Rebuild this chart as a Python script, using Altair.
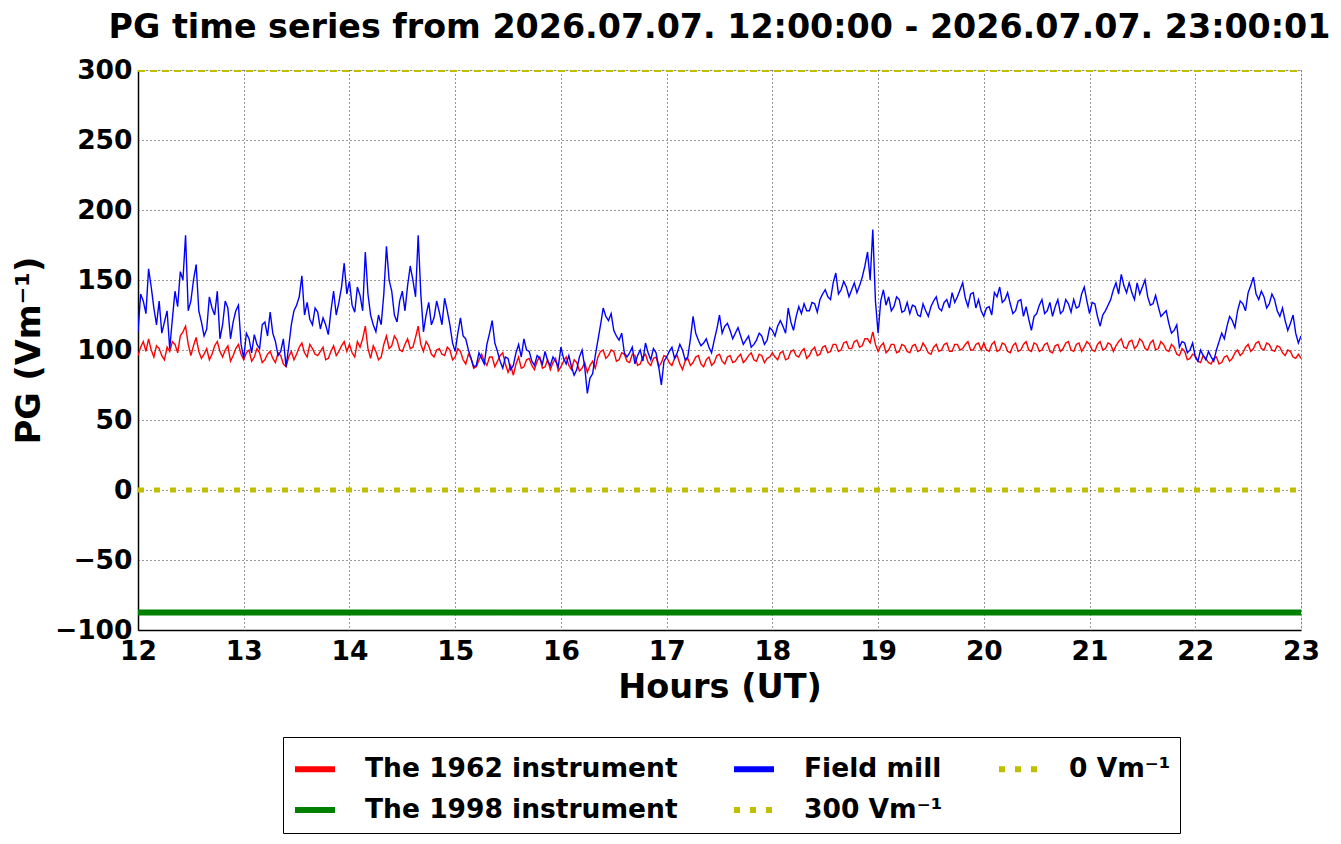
import altair as alt
import pandas as pd

# main samples every 3 minutes (12:00 .. 23:00) plus one reading between each pair
hours = [round(12 + i * 0.05, 4) for i in range(221)]
hours_mid = [round(12.025 + i * 0.05, 4) for i in range(220)]

red_1962 = (
    [96,106,108,95,101,93,99,104,110,117,96,109,94,101,97,106,95,103,96,104]
    + [93,100,95,98,93,99,91,96,88,99,97,105,95,101,96,102,94,103,99,106]
    + [104,95,102,117,94,99,95,110,103,107,99,108,102,117,99,103,95,101,96,100]
    + [95,99,90,94,88,97,89,95,92,98,84,82,95,88,94,86,95,88,86,94]
    + [88,95,86,91,87,84,92,95,100,96,99,93,97,91,96,90,97,89,95,91]
    + [95,89,96,86,94,91,96,88,95,91,97,90,96,92,97,93,98,92,96,94]
    + [98,93,99,94,100,95,101,96,102,97,103,99,104,100,106,101,107,103,108,113]
    + [99,105,100,104,99,103,98,104,100,102,97,104,100,105,99,104,101,106,100,105]
    + [105,99,106,100,104,98,105,100,106,99,104,100,105,98,104,101,106,99,105,102]
    + [104,99,106,101,104,103,108,101,107,103,106,100,107,101,104,99,102,96,99,94]
    + [96,91,94,90,95,91,96,94,100,98,104,101,106,100,104,99,102,96,99,94]
    + [94]
)
red_1962_mid = (
    [102,99,100,103,96,102,106,98,113,104,103,99,97,93,103,99,100,92,101,97]
    + [98,92,101,91,97,94,98,90,95,93,102,98,104,97,99,93,99,96,103,99]
    + [98,106,108,101,103,93,104,101,110,100,104,101,109,104,106,97,100,97,102,93]
    + [101,93,97,87,93,92,95,88,96,90,89,90,87,93,89,92,87,93,91,85]
    + [92,89,93,85,91,89,87,99,94,100,92,98,92,97,89,95,91,94,88,96]
    + [91,94,90,92,89,95,90,93,89,96,92,95,91,95,91,96,93,97,91,95]
    + [95,98,93,99,96,99,94,100,96,102,98,104,99,105,101,106,102,108,105,104]
    + [103,98,104,98,104,99,103,99,105,98,102,99,104,99,104,100,104,100,104,100]
    + [100,104,99,105,99,103,99,104,100,105,99,104,99,103,99,105,100,104,99,106]
    + [100,104,100,105,99,106,102,106,101,108,101,105,100,106,100,104,97,101,93,97]
    + [92,96,91,94,90,95,92,98,96,102,99,105,101,105,100,103,98,100,95,97]
)

blue_mill = (
    [113,135,158,130,135,120,101,142,156,182,135,161,120,115,130,142,118,130,120,132]
    + [94,108,111,101,120,127,106,99,88,118,132,153,134,118,127,123,111,142,134,162]
    + [149,127,139,170,125,113,118,174,142,120,142,146,150,182,113,134,123,127,137,118]
    + [99,123,108,94,89,94,104,121,99,87,94,89,104,108,99,89,94,99,89,92]
    + [102,90,88,86,100,69,83,107,130,121,114,107,98,98,90,100,105,93,98,75]
    + [95,102,98,100,95,124,107,105,102,107,125,117,114,112,110,107,102,107,110,107]
    + [114,117,117,130,114,131,133,128,133,136,143,136,155,143,145,143,141,152,170,186]
    + [112,143,138,131,136,128,126,131,124,128,131,138,128,136,141,138,148,131,141,136]
    + [124,131,141,145,136,133,128,136,131,114,126,136,128,124,136,128,133,136,131,145]
    + [126,133,117,128,136,148,154,141,141,148,145,138,133,131,126,119,114,102,105,100]
    + [95,100,93,95,100,112,117,121,128,133,141,152,136,138,133,136,124,121,119,112]
    + [110]
)
blue_mill_mid = (
    [140,126,145,118,112,128,122,131,150,128,150,128,110,138,125,108,135,108,128,104]
    + [112,98,104,118,110,112,96,108,102,128,138,125,122,130,115,118,128,125,145,140]
    + [132,145,128,140,118,125,140,150,125,135,128,160,138,140,125,118,135,118,128,105]
    + [112,110,100,88,98,90,112,105,92,95,86,98,95,100,92,96,90,92,95,88]
    + [94,96,82,95,88,80,96,118,124,126,110,112,95,102,96,92,98,101,88,92]
    + [99,94,104,93,108,112,103,108,98,115,112,119,108,116,104,110,104,112,104,116]
    + [110,121,112,120,124,126,128,134,127,140,138,148,140,149,138,148,146,160,150,135]
    + [135,132,128,138,127,134,132,125,133,124,135,130,134,130,134,143,137,140,130,128]
    + [130,125,138,134,141,126,135,124,122,124,132,126,134,131,126,136,127,130,140,135]
    + [134,124,125,132,143,140,146,148,136,140,150,132,139,124,128,112,118,106,98,105]
    + [92,96,99,92,106,108,124,116,135,128,146,140,142,130,140,128,130,114,125,105]
)

flat_hours = [12, 23]
green_1998 = [-87.5, -87.5]
line_300 = [300, 300]
line_0 = [0, 0]

S_RED = "The 1962 instrument"
S_GREEN = "The 1998 instrument"
S_BLUE = "Field mill"
S_300 = "300 Vm\u207b\u00b9"
S_ZERO = "0 Vm\u207b\u00b9"

series_order = [S_RED, S_GREEN, S_BLUE, S_300, S_ZERO]
series_colors = ["#ff0000", "#008000", "#0000ff", "#bfbf00", "#bfbf00"]
series_dash = [[1, 0], [1, 0], [1, 0], [6, 10], [6, 10]]

df_red = pd.concat([
    pd.DataFrame({"t": hours, "v": red_1962}),
    pd.DataFrame({"t": hours_mid, "v": red_1962_mid}),
]).sort_values("t").assign(s=S_RED)
df_blue = pd.concat([
    pd.DataFrame({"t": hours, "v": blue_mill}),
    pd.DataFrame({"t": hours_mid, "v": blue_mill_mid}),
]).sort_values("t").assign(s=S_BLUE)
df_green = pd.DataFrame({"t": flat_hours, "v": green_1998, "s": S_GREEN})
df_300 = pd.DataFrame({"t": flat_hours, "v": line_300, "s": S_300})
df_0 = pd.DataFrame({"t": flat_hours, "v": line_0, "s": S_ZERO})

FONT = "DejaVu Sans"

x_enc = alt.X(
    "t:Q",
    scale=alt.Scale(domain=[12, 23], nice=False, zero=False),
    axis=alt.Axis(
        title="Hours (UT)", values=list(range(12, 24)), format="d",
        labelFontSize=26.5, labelFontWeight="bold", labelFont=FONT, labelColor="black",
        titleFontSize=33.5, titleFontWeight="bold", titleFont=FONT, titleColor="black",
        titlePadding=7, labelPadding=8, ticks=False, labelFlush=False, labelOverlap=False,
        labelBound=False, grid=True, gridColor="black", gridDash=[1, 3], gridOpacity=0.8,
        domainColor="black", domainWidth=1.5,
    ),
)
y_enc = alt.Y(
    "v:Q",
    scale=alt.Scale(domain=[-100, 300], nice=False, zero=False),
    axis=alt.Axis(
        title="PG (Vm\u207b\u00b9)", values=list(range(-100, 301, 50)),
        labelFontSize=26.5, labelFontWeight="bold", labelFont=FONT, labelColor="black",
        titleFontSize=33.5, titleFontWeight="bold", titleFont=FONT, titleColor="black",
        titlePadding=8, labelPadding=6, ticks=False, labelFlush=False, labelOverlap=False,
        labelBound=False, grid=True, gridColor="black", gridDash=[1, 3], gridOpacity=0.8,
        domainColor="black", domainWidth=1.5,
    ),
)

legend = alt.Legend(
    title=None, orient="none", legendX=145, legendY=667, columns=3,
    symbolType="stroke", symbolSize=1600, symbolStrokeWidth=6,
    labelFontSize=26.5, labelFontWeight="bold", labelFont=FONT, labelColor="black",
    labelLimit=500, labelOffset=27, columnPadding=44, rowPadding=4,
    padding=9, strokeColor="black", fillColor="white", cornerRadius=0,
)
color_enc = alt.Color(
    "s:N", scale=alt.Scale(domain=series_order, range=series_colors), legend=legend
)
dash_enc = alt.StrokeDash(
    "s:N", scale=alt.Scale(domain=series_order, range=series_dash), legend=legend
)

red_layer = alt.Chart(df_red).mark_line(strokeWidth=1.4, clip=True).encode(
    x=x_enc, y=y_enc, color=color_enc, strokeDash=dash_enc)
green_layer = alt.Chart(df_green).mark_line(strokeWidth=6, clip=True).encode(
    x=x_enc, y=y_enc, color=color_enc, strokeDash=dash_enc)
blue_layer = alt.Chart(df_blue).mark_line(strokeWidth=1.4, clip=True).encode(
    x=x_enc, y=y_enc, color=color_enc, strokeDash=dash_enc)
top_layer = alt.Chart(df_300).mark_line(strokeWidth=4, clip=True, strokeDash=[7, 5]).encode(
    x=x_enc, y=y_enc, color=color_enc)
zero_layer = alt.Chart(df_0).mark_line(strokeWidth=5, clip=True).encode(
    x=x_enc, y=y_enc, color=color_enc, strokeDash=dash_enc)

chart = alt.layer(red_layer, green_layer, blue_layer, top_layer, zero_layer).properties(
    width=1163, height=560,
    title=alt.TitleParams(
        text="PG time series from 2026.07.07. 12:00:00 - 2026.07.07. 23:00:01",
        fontSize=33.3, fontWeight="bold", font=FONT, color="black",
        anchor="middle", frame="group", offset=12,
    ),
    padding={"left": 4, "top": 2, "right": 0, "bottom": 0},
).configure_view(stroke="black", strokeWidth=1.5).configure(background="white")

chart.save("out.html", embed_options={"renderer": "svg", "actions": False})
